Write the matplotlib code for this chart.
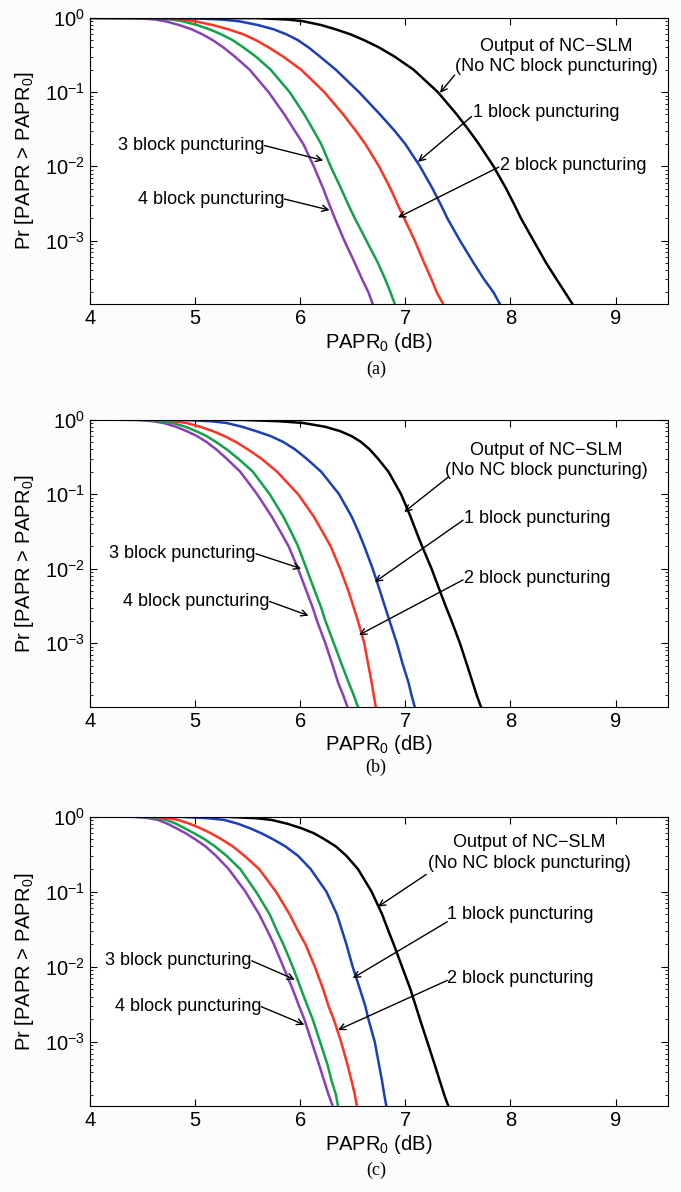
import matplotlib
matplotlib.use("Agg")
import matplotlib.pyplot as plt

plt.rcParams['font.family'] = ['Liberation Sans', 'DejaVu Sans']
plt.rcParams['mathtext.fontset'] = 'custom'
plt.rcParams['mathtext.rm'] = 'Liberation Sans'
plt.rcParams['mathtext.it'] = 'Liberation Sans:italic'
plt.rcParams['axes.unicode_minus'] = False

levels = [0.99, 0.95, 0.9, 0.8, 0.7, 0.6, 0.5, 0.4, 0.3, 0.2, 0.1, 0.05, 0.03,
          0.02, 0.01, 0.005, 0.003, 0.002, 0.001, 5e-4, 3e-4, 2e-4, 1.4e-4]

# PAPR0 (dB) where each curve crosses those levels
a_purple = [4.45, 4.62, 4.72, 4.85, 4.97, 5.07, 5.17, 5.27, 5.38, 5.52, 5.70, 5.85,
            5.95, 6.03, 6.13, 6.22, 6.28, 6.33, 6.42, 6.52, 6.59, 6.65, 6.69]
a_green = [4.58, 4.78, 4.88, 5.02, 5.14, 5.25, 5.36, 5.46, 5.58, 5.72, 5.90, 6.04,
           6.13, 6.20, 6.29, 6.39, 6.46, 6.52, 6.63, 6.74, 6.81, 6.86, 6.90]
a_red = [4.70, 4.88, 5.00, 5.17, 5.32, 5.46, 5.58, 5.70, 5.84, 6.01, 6.23, 6.41,
         6.53, 6.62, 6.75, 6.86, 6.93, 6.99, 7.09, 7.18, 7.25, 7.30, 7.36]
a_blue = [4.95, 5.25, 5.42, 5.60, 5.75, 5.87, 5.98, 6.08, 6.19, 6.34, 6.56, 6.76,
          6.90, 7.00, 7.14, 7.26, 7.34, 7.40, 7.52, 7.65, 7.75, 7.84, 7.90]
a_black = [5.60, 5.88, 6.03, 6.20, 6.34, 6.48, 6.61, 6.75, 6.90, 7.08, 7.31, 7.49,
           7.61, 7.70, 7.84, 7.96, 8.04, 8.10, 8.22, 8.34, 8.44, 8.52, 8.59]

b_purple = [4.45, 4.60, 4.70, 4.82, 4.92, 5.02, 5.11, 5.20, 5.30, 5.43, 5.59, 5.73,
            5.82, 5.89, 5.98, 6.06, 6.12, 6.16, 6.24, 6.31, 6.36, 6.41, 6.45]
b_green = [4.52, 4.68, 4.79, 4.91, 5.01, 5.11, 5.20, 5.30, 5.41, 5.55, 5.71, 5.84,
           5.92, 5.98, 6.06, 6.14, 6.20, 6.24, 6.32, 6.40, 6.46, 6.51, 6.55]
b_red = [4.62, 4.80, 4.92, 5.05, 5.17, 5.28, 5.39, 5.50, 5.63, 5.78, 5.98, 6.13,
         6.22, 6.29, 6.38, 6.46, 6.51, 6.55, 6.61, 6.65, 6.68, 6.70, 6.72]
b_blue = [4.88, 5.15, 5.30, 5.45, 5.58, 5.72, 5.84, 5.95, 6.06, 6.20, 6.37, 6.49,
          6.56, 6.61, 6.69, 6.76, 6.81, 6.85, 6.92, 6.98, 7.03, 7.06, 7.09]
b_black = [5.45, 5.80, 6.03, 6.24, 6.38, 6.49, 6.58, 6.66, 6.74, 6.84, 6.96, 7.05,
           7.11, 7.16, 7.25, 7.33, 7.39, 7.44, 7.52, 7.59, 7.64, 7.68, 7.72]

c_purple = [4.42, 4.56, 4.65, 4.74, 4.82, 4.91, 5.00, 5.10, 5.20, 5.32, 5.48, 5.61,
            5.69, 5.75, 5.84, 5.93, 5.99, 6.04, 6.11, 6.18, 6.23, 6.27, 6.31]
c_green = [4.50, 4.64, 4.73, 4.82, 4.90, 4.99, 5.09, 5.19, 5.30, 5.43, 5.58, 5.71,
           5.78, 5.84, 5.93, 6.01, 6.07, 6.12, 6.19, 6.26, 6.30, 6.34, 6.36]
c_red = [4.60, 4.75, 4.84, 4.95, 5.05, 5.15, 5.25, 5.36, 5.47, 5.61, 5.77, 5.90,
         5.98, 6.05, 6.14, 6.22, 6.27, 6.32, 6.39, 6.45, 6.49, 6.52, 6.54]
c_blue = [4.85, 5.12, 5.28, 5.41, 5.52, 5.63, 5.74, 5.86, 5.98, 6.10, 6.25, 6.35,
          6.40, 6.44, 6.50, 6.57, 6.62, 6.65, 6.71, 6.75, 6.78, 6.80, 6.82]
c_black = [5.30, 5.58, 5.73, 5.88, 6.01, 6.13, 6.23, 6.34, 6.44, 6.55, 6.68, 6.78,
           6.84, 6.89, 6.97, 7.05, 7.10, 7.14, 7.21, 7.28, 7.33, 7.37, 7.41]

panels = [
    ("(a)", [a_purple, a_green, a_red, a_blue, a_black]),
    ("(b)", [b_purple, b_green, b_red, b_blue, b_black]),
    ("(c)", [c_purple, c_green, c_red, c_blue, c_black]),
]
colors = ['#8a3fb8', '#0fa34a', '#ff3322', '#1a3fb8', 'black']

top_text = "Output of NC\u2212SLM"
top_text2 = "(No NC block puncturing)"
lbl1 = "1 block puncturing"
lbl2 = "2 block puncturing"
lbl3 = "3 block puncturing"
lbl4 = "4 block puncturing"

# label placement (x, log10 y) per panel: text anchor, arrow start, arrow tip
layout = {
    "(a)": dict(top=(8.44, -0.39, -0.65), top_arrow=((7.47, -0.77), (7.33, -1.01)),
                l1=(7.64, -1.28), a1=((7.63, -1.33), (7.12, -1.94)),
                l2=(7.90, -1.99), a2=((7.89, -2.01), (6.93, -2.69)),
                l3=(5.66, -1.72), a3=((5.66, -1.72), (6.22, -1.92)),
                l4=(5.85, -2.44), a4=((5.85, -2.44), (6.28, -2.59))),
    "(b)": dict(top=(8.34, -0.41, -0.68), top_arrow=((7.41, -0.77), (6.99, -1.24)),
                l1=(7.56, -1.33), a1=((7.55, -1.35), (6.71, -2.18)),
                l2=(7.56, -2.13), a2=((7.55, -2.15), (6.56, -2.89)),
                l3=(5.58, -1.80), a3=((5.58, -1.80), (6.01, -2.00)),
                l4=(5.71, -2.44), a4=((5.71, -2.44), (6.08, -2.63))),
    "(c)": dict(top=(8.18, -0.35, -0.63), top_arrow=((7.20, -0.77), (6.74, -1.20)),
                l1=(7.40, -1.30), a1=((7.40, -1.40), (6.50, -2.15)),
                l2=(7.40, -2.16), a2=((7.40, -2.18), (6.36, -2.84)),
                l3=(5.54, -1.92), a3=((5.54, -1.92), (5.95, -2.17)),
                l4=(5.63, -2.53), a4=((5.63, -2.53), (6.04, -2.77))),
}

boxes = [[0.132, 0.745, 0.849, 0.240],
         [0.132, 0.407, 0.849, 0.241],
         [0.132, 0.072, 0.849, 0.243]]
caption_y = [0.690, 0.356, 0.018]

fig = plt.figure(figsize=(6.81, 11.92), dpi=100)
fig.patch.set_facecolor('#fbfcfe')

def arrow(ax, start, tip):
    ax.annotate('', xy=(tip[0], 10 ** tip[1]), xytext=(start[0], 10 ** start[1]),
                arrowprops=dict(arrowstyle='->', lw=1.0, color='black',
                                shrinkA=0, shrinkB=0, mutation_scale=11))

for i, (name, curves) in enumerate(panels):
    ax = fig.add_axes(boxes[i])
    ax.set_facecolor('white')
    for xs, col in zip(curves, colors):
        ax.plot([4.0] + xs, [1.0] + levels, color=col, lw=1.8)
    ax.set_yscale('log')
    ax.set_xlim(4, 9.5)
    ax.set_ylim(1.4e-4, 1)
    ax.set_xticks([4, 5, 6, 7, 8, 9])
    ax.set_yticks([1, 0.1, 0.01, 0.001])
    ax.tick_params(which='both', direction='in', top=True, right=True, labelsize=14.5)
    ax.tick_params(which='major', length=5)
    ax.tick_params(which='minor', length=2.5)
    ax.set_xlabel(r'PAPR$_0$ (dB)', fontsize=14.5, labelpad=2)
    ax.set_ylabel(r'Pr [PAPR > PAPR$_0$]', fontsize=14.5)
    ax.yaxis.set_label_coords(-0.093, 0.5)

    L = layout[name]
    tx, ty1, ty2 = L['top']
    ax.text(tx, 10 ** ty1, top_text, ha='center', va='center', fontsize=13)
    ax.text(tx, 10 ** ty2, top_text2, ha='center', va='center', fontsize=13)
    arrow(ax, *L['top_arrow'])
    ax.text(L['l1'][0], 10 ** L['l1'][1], lbl1, ha='left', va='center', fontsize=13)
    arrow(ax, *L['a1'])
    ax.text(L['l2'][0], 10 ** L['l2'][1], lbl2, ha='left', va='center', fontsize=13)
    arrow(ax, *L['a2'])
    ax.text(L['l3'][0], 10 ** L['l3'][1], lbl3, ha='right', va='center', fontsize=13)
    arrow(ax, *L['a3'])
    ax.text(L['l4'][0], 10 ** L['l4'][1], lbl4, ha='right', va='center', fontsize=13)
    arrow(ax, *L['a4'])

    fig.text(0.552, caption_y[i], name, ha='center', va='center', fontsize=13,
             family='Liberation Serif')

fig.savefig('out.png', dpi=100, facecolor=fig.get_facecolor())
